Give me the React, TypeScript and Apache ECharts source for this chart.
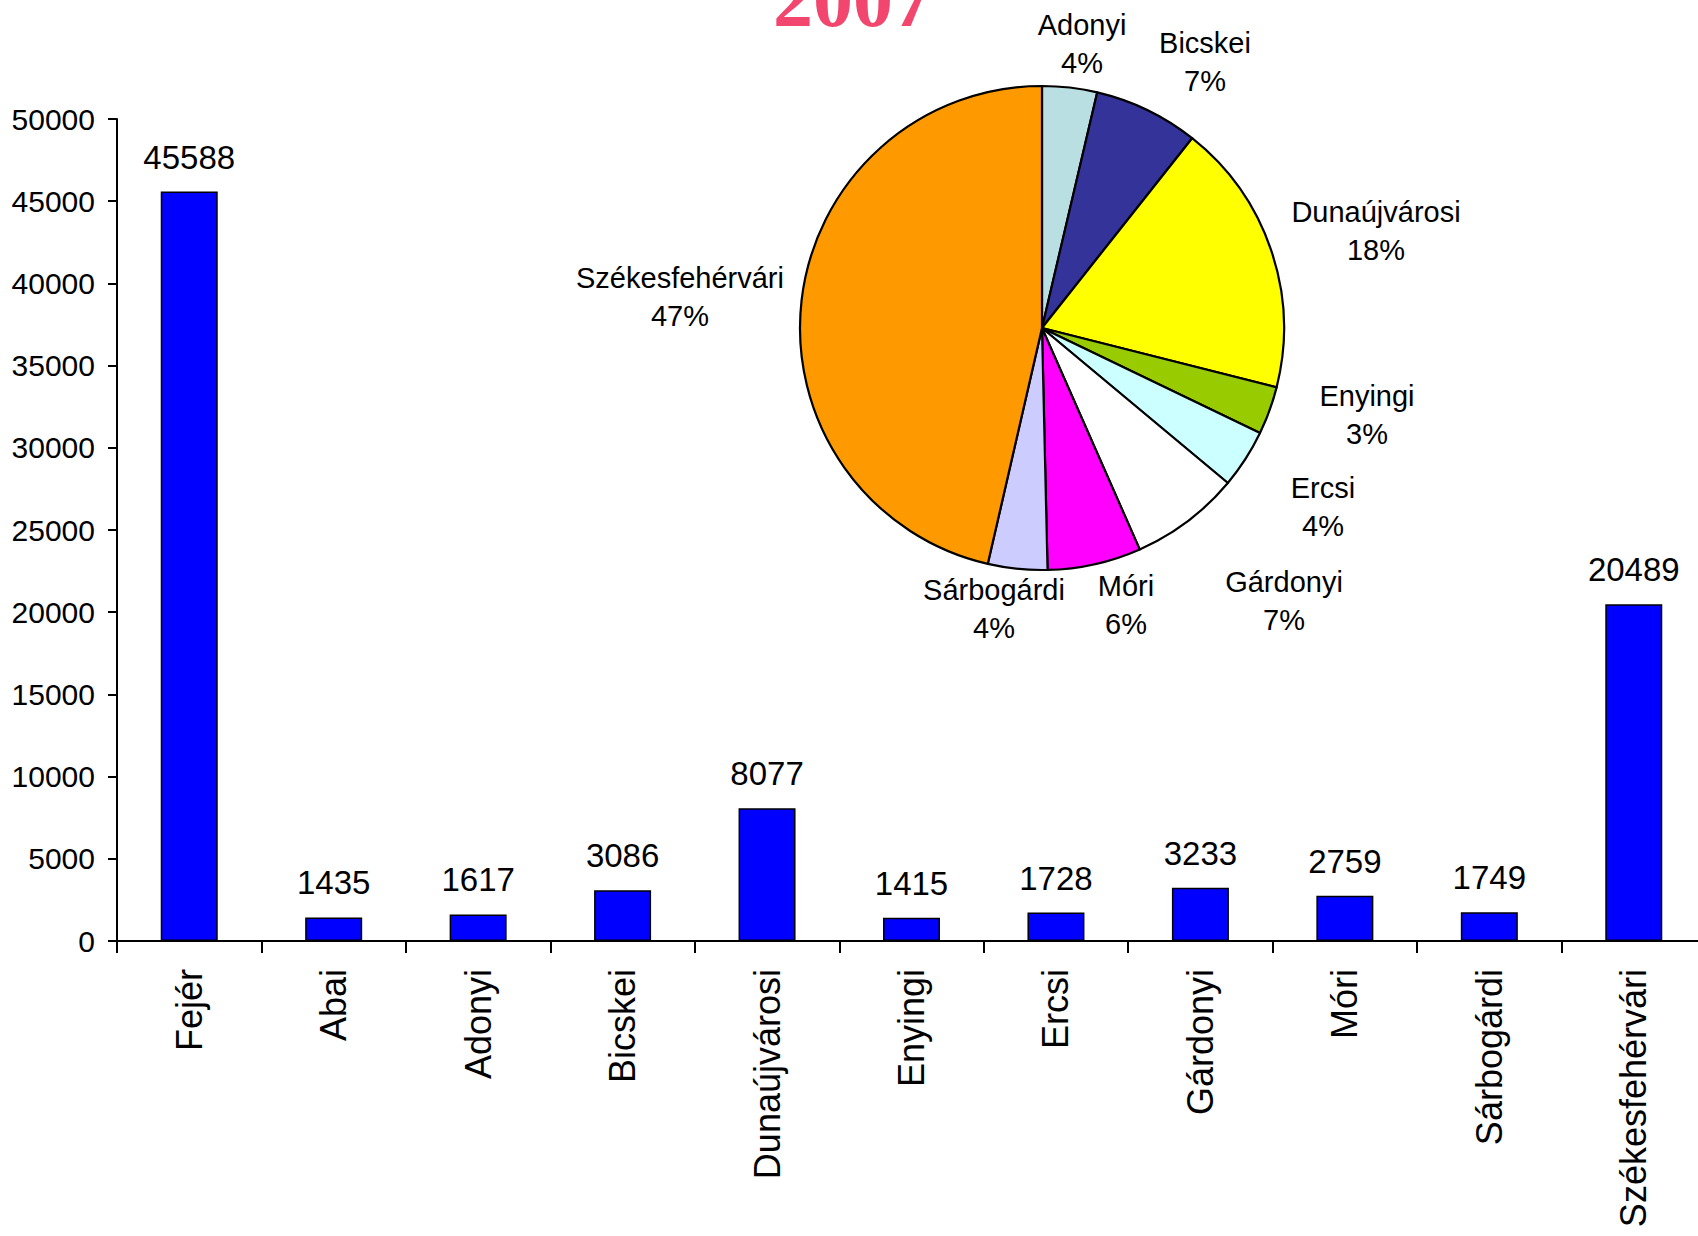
import React, { useEffect, useRef } from "react";
import * as echarts from "echarts";

const categories = ["Fejér", "Abai", "Adonyi", "Bicskei", "Dunaújvárosi", "Enyingi", "Ercsi", "Gárdonyi", "Móri", "Sárbogárdi", "Székesfehérvári"];
const values = [45588, 1435, 1617, 3086, 8077, 1415, 1728, 3233, 2759, 1749, 20489];
const yMin = 0;
const yMax = 50000;
const yInterval = 5000;

const pieCategories = ["Adonyi", "Bicskei", "Dunaújvárosi", "Enyingi", "Ercsi", "Gárdonyi", "Móri", "Sárbogárdi", "Székesfehérvári"];
const pieColors = ["#BADFE2", "#333399", "#FFFF00", "#99CC00", "#CCFFFF", "#FFFFFF", "#FF00FF", "#CCCCFF", "#FF9900"];
const titleText = "2007";

// layout: centre of each pie label block (px)
const pieLabelPos: [number, number][] = [
  [1082, 44],
  [1205, 62],
  [1376, 231],
  [1367, 415],
  [1323, 507],
  [1284, 601],
  [1126, 605],
  [994, 609],
  [680, 297],
];

export default function App() {
  const ref = useRef<HTMLDivElement>(null);
  useEffect(() => {
    document.body.style.margin = "0";
    document.body.style.overflow = "hidden";
    const chart = echarts.init(ref.current!, null, { renderer: "svg" });
    const pieData = pieCategories.map((n, i) => ({
      name: n,
      value: values[categories.indexOf(n)],
      itemStyle: { color: pieColors[i] },
    }));
    const font = "'Liberation Sans', Arial, sans-serif";
    chart.setOption({
      animation: false,
      backgroundColor: "#FFFFFF",
      graphic: [
        {
          type: "text",
          x: 853,
          y: 39,
          z: 10,
          style: {
            text: titleText,
            font: "bold 80px 'Liberation Serif', 'Times New Roman', serif",
            fill: "#F2466E",
            textAlign: "center",
            textVerticalAlign: "bottom",
          },
        },
      ],
      grid: { left: 117, top: 119, height: 822, width: 1589, containLabel: false },
      xAxis: {
        type: "category",
        data: categories,
        axisLine: { lineStyle: { color: "#000", width: 2 } },
        axisTick: { show: true, length: 12, lineStyle: { color: "#000", width: 2 } },
        axisLabel: { rotate: 90, margin: 28, fontSize: 36, color: "#000", fontFamily: font, interval: 0 },
      },
      yAxis: {
        type: "value",
        min: yMin,
        max: yMax,
        interval: yInterval,
        splitLine: { show: false },
        axisLine: { show: true, lineStyle: { color: "#000", width: 2 } },
        axisTick: { show: true, length: 9, lineStyle: { color: "#000", width: 2 } },
        axisLabel: { margin: 22, fontSize: 30, color: "#000", fontFamily: font, formatter: (v: number) => String(v) },
      },
      series: [
        {
          type: "bar",
          data: values,
          barWidth: 57,
          itemStyle: { color: "#0000FF", borderColor: "#000", borderWidth: 1.5 },
          label: { show: true, position: "top", distance: 18, fontSize: 33, color: "#000", fontFamily: font },
        },
        {
          type: "pie",
          center: [1042, 328],
          radius: 242,
          startAngle: 90,
          clockwise: true,
          percentPrecision: 0,
          data: pieData,
          itemStyle: { borderColor: "#000", borderWidth: 2.2 },
          labelLine: { show: false },
          labelLayout: (p: any) => {
            const pos = pieLabelPos[p.dataIndex];
            return { x: pos[0], y: pos[1], align: "center", verticalAlign: "middle" };
          },
          label: {
            show: true,
            position: "outside",
            formatter: "{n|{b}}\n{p|{d}%}",
            color: "#000",
            fontFamily: font,
            rich: {
              n: { fontSize: 29, lineHeight: 38, align: "center", fontFamily: font, color: "#000" },
              p: { fontSize: 29, lineHeight: 38, align: "center", fontFamily: font, color: "#000" },
            },
          },
          emphasis: { disabled: true },
        },
      ],
    });
    return () => chart.dispose();
  }, []);
  return (
    <div style={{ width: 1698, height: 1236, overflow: "hidden" }}>
      <div ref={ref} style={{ width: 1720, height: 1236 }} />
    </div>
  );
}
